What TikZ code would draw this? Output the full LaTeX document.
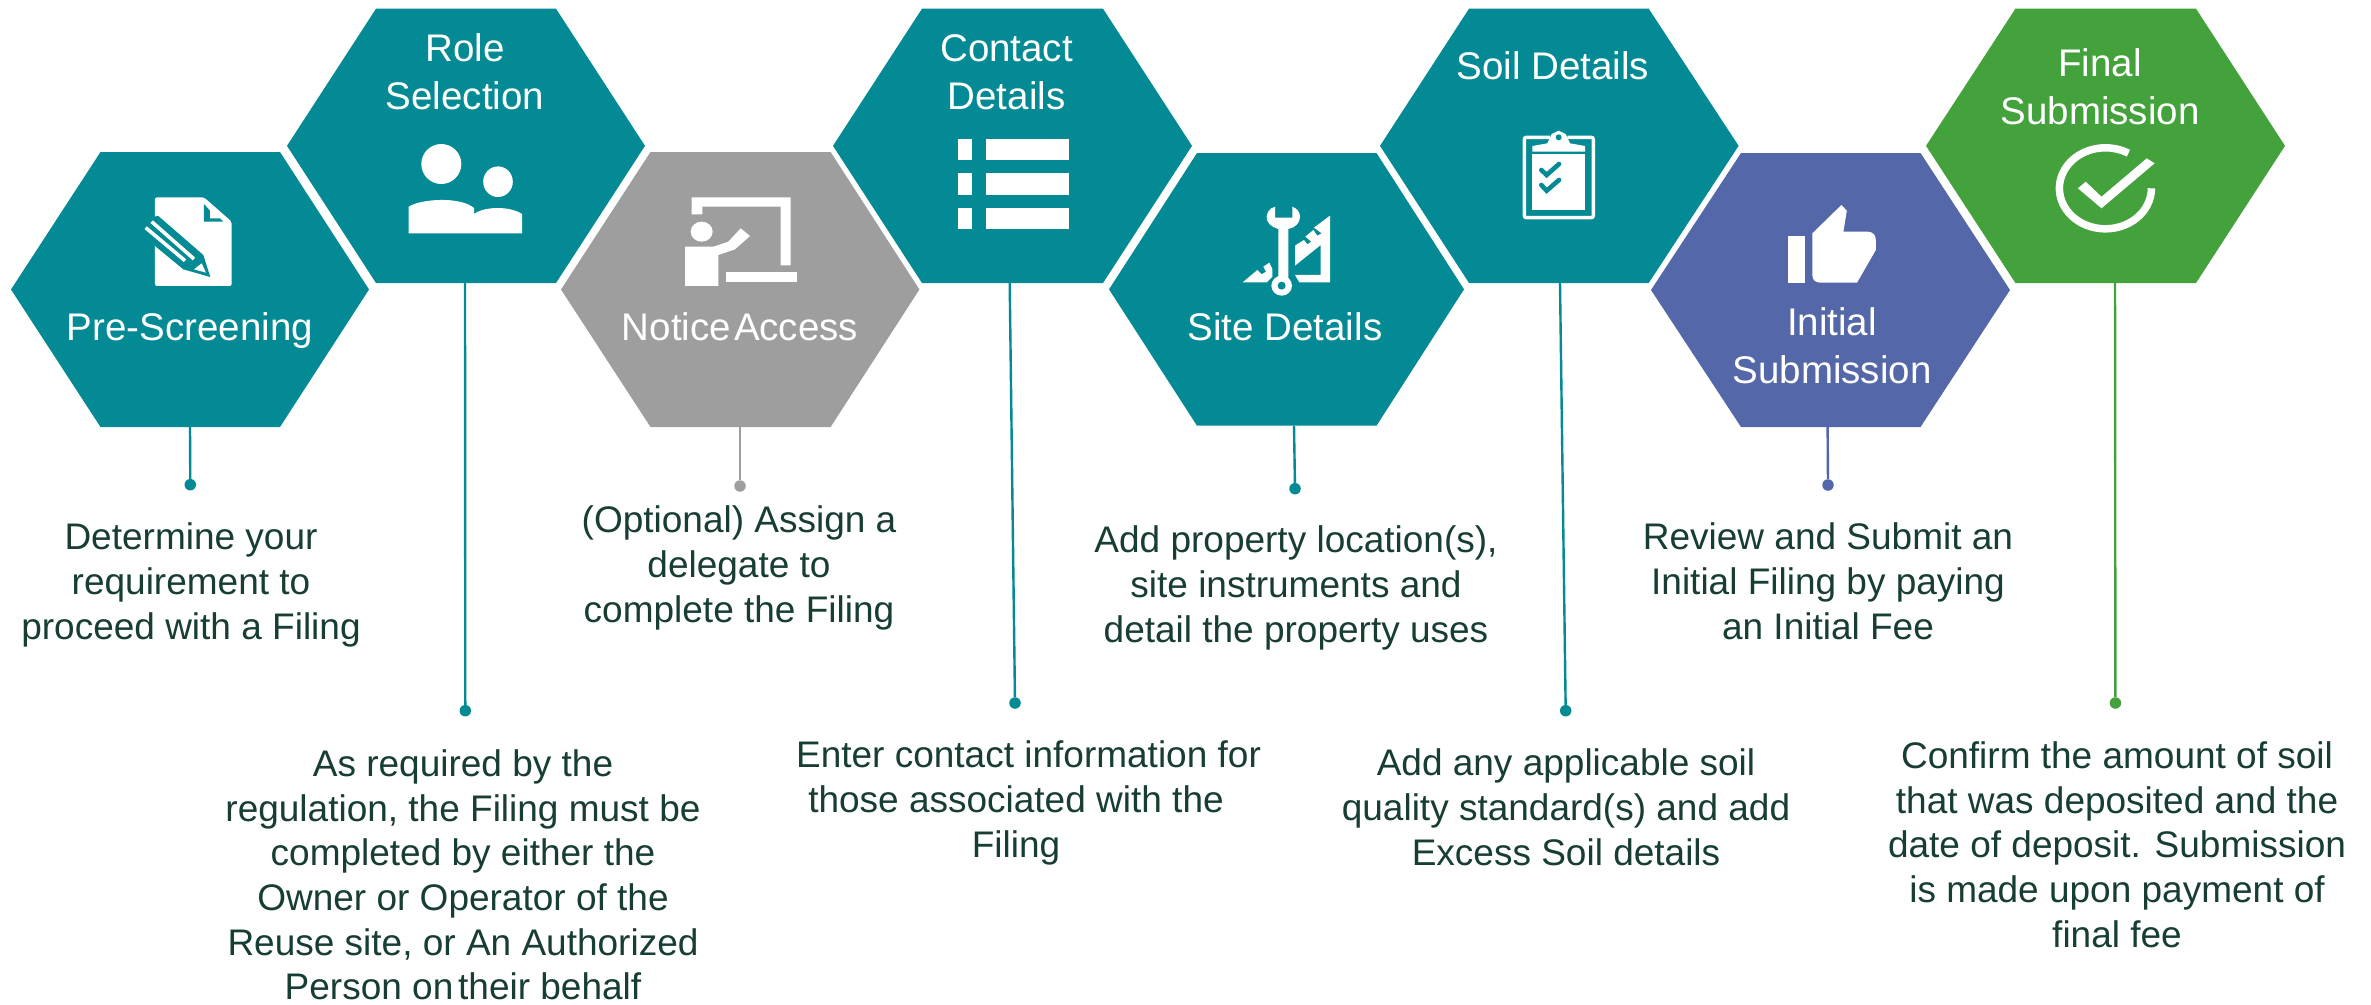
\documentclass[tikz,border=0pt]{standalone}
\usepackage{fontspec}
\setmainfont{Liberation Sans}
\definecolor{tealc}{HTML}{038A94}
\definecolor{grayc}{HTML}{9E9E9E}
\definecolor{bluec}{HTML}{5467A8}
\definecolor{greenc}{HTML}{43A23B}
\definecolor{textc}{HTML}{173D35}
\tikzset{
  desc/.style={anchor=base,inner sep=0pt,yshift=-1.3pt,align=center,text=textc,font=\fontsize{37}{44.7}\selectfont},
  hexlabel/.style={anchor=base,inner sep=0pt,yshift=-1pt,align=center,text=white,font=\fontsize{38.5}{47.5}\selectfont},
  enddot/.style={circle,inner sep=0pt,minimum size=11.5pt},
  conn/.style={line width=2.4pt},
  ico/.style={fill=white,draw=none},
}
% #1 name, #2 color, #3 left, #4 top-left, #5 top-right, #6 right, #7 top, #8 bottom, #9 foot x
\newcommand{\hexa}[9]{%
  \fill[#2] (#3,{(#7+#8)/2}) -- (#4,#7) -- (#5,#7) -- (#6,{(#7+#8)/2}) -- (#5,#8) -- (#4,#8) -- cycle;
  \coordinate (#1) at (#9,#8);
}
\begin{document}
\begin{tikzpicture}[x=1pt,y=-1pt]
\useasboundingbox (0,0) rectangle (2371,1004);
\fill[white] (0,0) rectangle (2371,1004);

\hexa{h1}{tealc}{11}{100.5}{280}{369}{152}{427}{190}
\hexa{h2}{tealc}{287}{376}{556}{645}{8.7}{283}{465}
\hexa{h3}{grayc}{561}{650.5}{830.6}{919.4}{152}{427}{740}
\hexa{h4}{tealc}{833}{922}{1103}{1192}{8.7}{283}{1009.7}
\hexa{h5}{tealc}{1109}{1197}{1376.5}{1464}{153}{425.7}{1294}
\hexa{h6}{tealc}{1380}{1469}{1648.7}{1738.6}{8.7}{283}{1560}
\hexa{h7}{bluec}{1651}{1741}{1920.5}{2010}{153}{427}{1827.6}
\hexa{h8}{greenc}{1926}{2015.4}{2196}{2285}{8.7}{283}{2115}

% connectors
\node[enddot,fill=tealc] (d1) at (190.3,484.7) {};
\node[enddot,fill=tealc] (d2) at (465.3,710.7) {};
\node[enddot,fill=grayc] (d3) at (740,486) {};
\node[enddot,fill=tealc] (d4) at (1015,703) {};
\node[enddot,fill=tealc] (d5) at (1295,488.7) {};
\node[enddot,fill=tealc] (d6) at (1565.7,710.7) {};
\node[enddot,fill=bluec] (d7) at (1828,485) {};
\node[enddot,fill=greenc] (d8) at (2115.4,703) {};
\draw[conn,tealc] (h1) -- (d1);
\draw[conn,tealc] (h2) -- (d2);
\draw[conn,grayc] (h3) -- (d3);
\draw[conn,tealc] (h4) -- (d4);
\draw[conn,tealc] (h5) -- (d5);
\draw[conn,tealc] (h6) -- (d6);
\draw[conn,bluec] (h7) -- (d7);
\draw[conn,greenc] (h8) -- (d8);

% hexagon labels
\node[hexlabel] (l1) at (190,339) {Pre-Screening};
\node[hexlabel] (l2a) at (465,60.7) {Role};
\node[hexlabel] (l2b) at (465,108) {Selection};
\node[hexlabel] (l3) at (740,339) {Notice\hspace{.08em}Access};
\node[hexlabel] (l4a) at (1006.6,60.7) {Contact};
\node[hexlabel] (l4b) at (1006.6,108) {Details};
\node[hexlabel] (l5) at (1285,339) {Site Details};
\node[hexlabel] (l6) at (1553,78) {Soil Details};
\node[hexlabel] (l7a) at (1832,334) {Initial};
\node[hexlabel] (l7b) at (1832,382) {Submission};
\node[hexlabel] (l8a) at (2100,75.7) {Final};
\node[hexlabel] (l8b) at (2100,123.7) {Submission};

% descriptions (y = last baseline)
\node[desc] (t1) at (191,638) {Determine your\\requirement to\\proceed with a Filing};
\node[desc] (t2) at (463,998.5) {As required by the\\regulation, the Filing must be\\completed by either the\\Owner or Operator of the\\Reuse site, or An Authorized\\Person on\hspace{.13em}their behalf};
\node[desc] (t3) at (739,620.7) {(Optional) Assign a\\delegate to\\complete the Filing};
\node[desc] (t4) at (1016,856) {\hspace*{25pt}Enter contact information for\\those associated with the\\Filing};
\node[desc] (t5) at (1296,640.7) {Add property location(s),\\site instruments and\\detail the property uses};
\node[desc] (t6) at (1566,864) {Add any applicable soil\\quality standard(s) and add\\Excess Soil details};
\node[desc] (t7) at (1828,638) {Review and Submit an\\Initial Filing by paying\\an Initial Fee};
\node[desc] (t8) at (2117,946) {Confirm the amount of soil\\that was deposited and the\\date of deposit. Submission\\is made upon payment of\\final fee};

% icon 1: document and pencil
\begin{scope}[shift={(130,190)},x=0.3333pt,y=-0.3333pt]
\fill[white,rounded corners=2pt] (75,22) -- (222,22) -- (305,95) -- (305,288) -- (75,288) -- cycle;
\fill[tealc] (222,42) -- (222,95) -- (280,95) -- (270,85) -- (240,85) -- (240,62) -- cycle;
\fill[tealc] (85,78) -- (220,195) -- (241,261) -- (160,238) -- (75,168) -- (40,120) -- (70,80) -- cycle;
\fill[white] (192,238) -- (215,220) -- (228,248) -- cycle;
\draw[white,line width=3.6pt] (65,95) -- (192,207);
\draw[white,line width=3.6pt] (47,113) -- (165,212);
\end{scope}

% icon 2: people
\fill[ico] (441.3,164) ellipse[x radius=20,y radius=20];
\fill[ico] (498,181.7) ellipse[x radius=14.8,y radius=15.3];
\fill[ico] (408.7,233.3) -- (408.7,206.7) .. controls (420,199) and (460,196) .. (474,208) -- (474,214) .. controls (485,206) and (510,206) .. (522,214) -- (522,233.3) -- cycle;

% icon 3: presenter
\begin{scope}[shift={(670,190)},x=0.3333pt,y=-0.3333pt]
\fill[ico] (65,22) -- (362,22) -- (362,226) -- (332,226) -- (332,50) -- (97,50) -- (97,73) -- (65,73) -- cycle;
\fill[ico] (95,125) ellipse[x radius=33,y radius=30];
\fill[ico] (45,170) -- (130,170) -- (175,155) -- (212,115) -- (240,138) -- (195,178) -- (145,195) -- (145,288) -- (45,288) -- cycle;
\fill[ico] (168,246) rectangle (381,275);
\end{scope}

% icon 4: list
\fill[ico] (958.2,139) rectangle (972,160);
\fill[ico] (958.2,173) rectangle (972,195);
\fill[ico] (958.2,208) rectangle (972,229);
\fill[ico] (986,139) rectangle (1069,160);
\fill[ico] (986,173) rectangle (1069,195);
\fill[ico] (986,208) rectangle (1069,229);

% icon 5: wrench and set square
\begin{scope}[shift={(1230,195)},x=0.3333pt,y=-0.3333pt]
\fill[ico] (300,62) -- (300,262) -- (208,262) -- (195,240) -- (272,240) -- (272,150) -- (195,212) -- (195,155) -- (197,150) -- (222,135) -- (232,148) -- (244,140) -- (226,125) -- (250,105) -- (262,122) -- (275,115) -- (252,98) -- cycle;
\fill[ico] (38,262) -- (82,225) -- (95,238) -- (108,230) -- (100,215) -- (118,203) -- (127,222) -- (127,245) -- (110,262) -- cycle;
\fill[ico] (135,35) .. controls (115,40) and (105,60) .. (112,78) .. controls (120,95) and (140,100) .. (145,102) -- (145,250) -- (175,250) -- (175,102) .. controls (195,98) and (210,85) .. (210,65) .. controls (210,50) and (200,40) .. (187,35) -- (187,68) -- (135,68) -- cycle;
\fill[ico] (155,272) ellipse[x radius=31,y radius=30];
\fill[tealc] (155,272) ellipse[x radius=12,y radius=12];
\end{scope}

% icon 6: clipboard
\begin{scope}[shift={(1510,120)},x=0.3333pt,y=-0.3333pt]
\draw[white,line width=3.4pt,rounded corners=2pt] (120,52) -- (43,52) -- (43,293) -- (250,293) -- (250,52) -- (172,52);
\fill[ico] (67,103) rectangle (225,270);
\fill[ico] (67,95) -- (67,78) -- (112,70) -- (125,42) -- (146,32) -- (167,42) -- (180,70) -- (225,78) -- (225,95) -- cycle;
\fill[tealc] (146,52) circle[radius=3pt];
\draw[tealc,line width=4.6pt,line cap=round] (94,150) -- (110,165) -- (147,132);
\draw[tealc,line width=4.6pt,line cap=round] (94,195) -- (110,212) -- (147,180);
\end{scope}

% icon 7: thumb
\fill[ico] (1787.8,236) rectangle (1805,282.7);
\fill[ico] (1812.4,233.3) -- (1841.4,205) -- (1846.8,210.7) -- (1843.4,231.7) -- (1868,231.7) .. controls (1873,232) and (1875.8,235) .. (1875.8,240) -- (1875.8,250) -- (1857,282.7) -- (1820,282.7) .. controls (1815,282) and (1812.4,280) .. (1812.4,275) -- cycle;

% icon 8: check in ring
\draw[white,line width=7.5pt] plot[domain=0:300,samples=72,smooth] ({2105.4+46*cos(\x)},{188.3+40.5*sin(\x)});
\fill[ico] (2077.9,188.3) -- (2085.7,181.7) -- (2101.5,196.7) -- (2146.7,158.3) -- (2154.6,163.3) -- (2101.5,208.3) -- cycle;
\end{tikzpicture}
\end{document}
